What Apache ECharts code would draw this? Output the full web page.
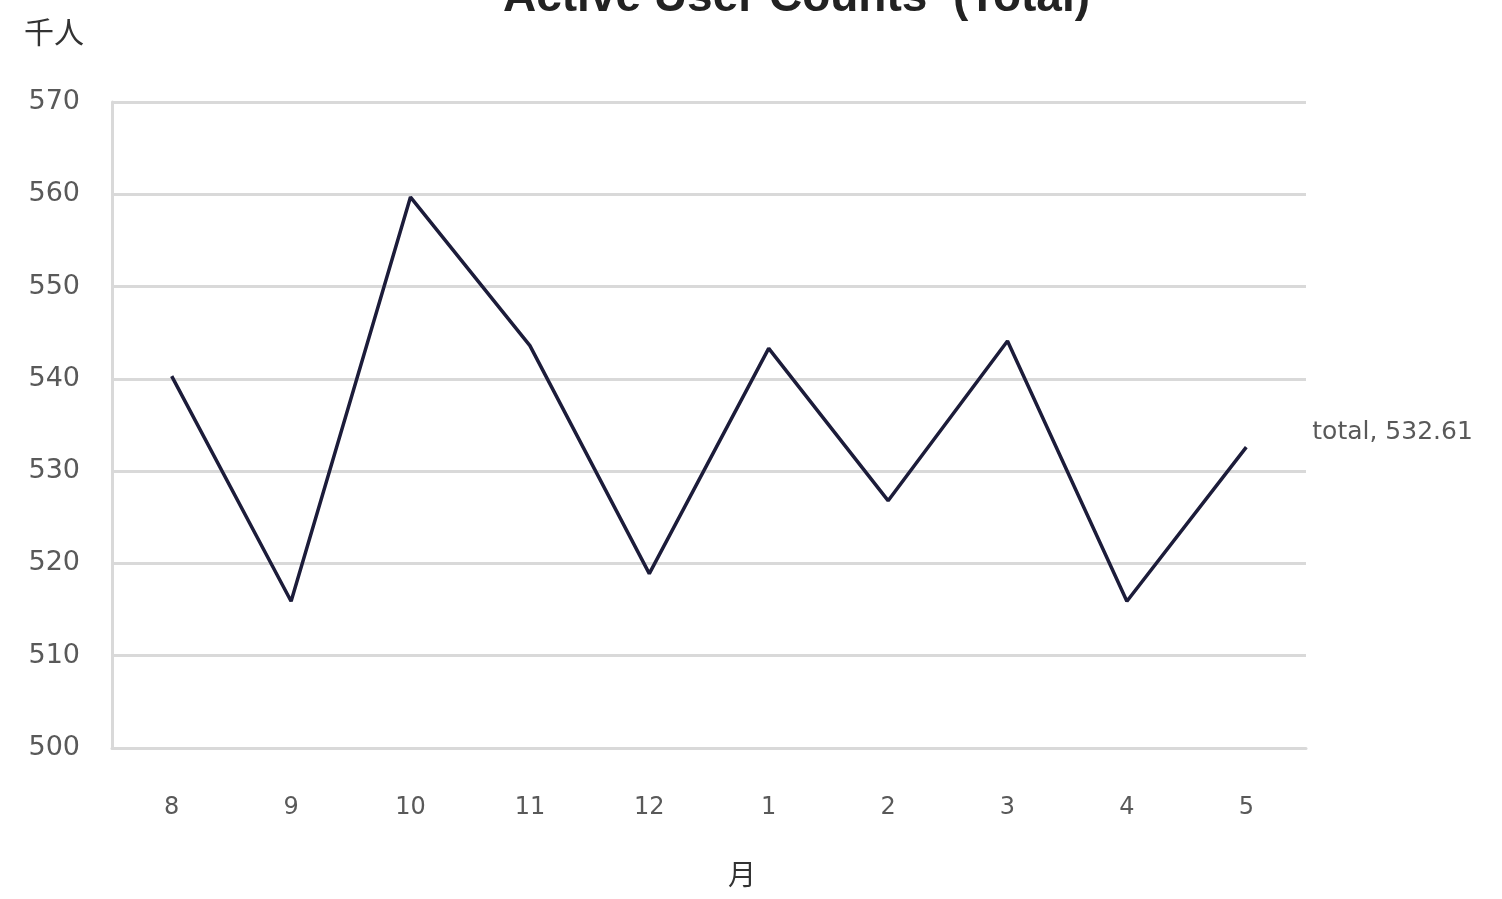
<!DOCTYPE html>
<html>
<head>
<meta charset="utf-8">
<script src="https://cdn.jsdelivr.net/npm/echarts@6/dist/echarts.min.js"></script>
<style>html,body{margin:0;padding:0;background:#fff}#c{width:1502px;height:899px}</style>
</head>
<body>
<div id="c"></div>
<script>
const categories = ['8','9','10','11','12','1','2','3','4','5'];
const totalValues = [540.3, 515.9, 559.7, 543.6, 518.9, 543.3, 526.8, 544.1, 515.9, 532.61];
const seriesName = 'total';
const titleText = 'Active User Counts  (Total)';

const chart = echarts.init(document.getElementById('c'));
const txt = '#595959';
const font = '"DejaVu Sans", "Noto Sans CJK JP", sans-serif';
chart.setOption({
  animation: false,
  backgroundColor: '#fff',
  title: {
    text: titleText, left: 498, top: -30,
    textStyle: {fontSize: 46, fontWeight: 'bold', color: '#222', fontFamily: '"Liberation Sans", sans-serif'}
  },
  grid: {left: 112, right: 196, top: 102, bottom: 151},
  xAxis: {
    type: 'category', data: categories, boundaryGap: true,
    name: '月', nameLocation: 'middle', nameGap: 116,
    nameTextStyle: {fontSize: 28, color: '#333', padding: [0, 0, 0, 66], fontFamily: font},
    axisLine: {lineStyle: {color: '#d9d9d9', width: 3}},
    axisTick: {show: false},
    axisLabel: {fontSize: 24, color: txt, margin: 48, fontFamily: font},
    z: 1
  },
  yAxis: {
    type: 'value', min: 500, max: 570, interval: 10,
    name: '千人', nameLocation: 'end', nameGap: 52,
    nameTextStyle: {fontSize: 30, color: '#333', align: 'right', padding: [0, 28, 0, 0], fontFamily: font},
    axisLine: {show: true, lineStyle: {color: '#d9d9d9', width: 3}},
    axisTick: {show: false},
    axisLabel: {fontSize: 27, color: txt, margin: 32, fontFamily: font},
    splitLine: {lineStyle: {color: '#d9d9d9', width: 3}}
  },
  series: [{
    name: seriesName, type: 'line', data: totalValues,
    symbol: 'none', showSymbol: false,
    lineStyle: {color: '#1c1c3a', width: 3.5},
    endLabel: {
      show: true, offset: [58, -15],
      formatter: p => seriesName + ', ' + p.value,
      fontSize: 25, color: txt, fontFamily: font
    }
  }]
});
</script>
</body>
</html>
